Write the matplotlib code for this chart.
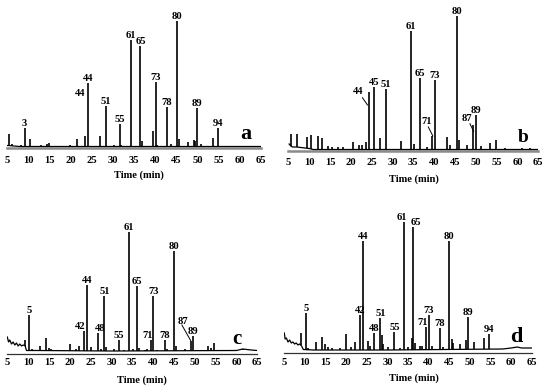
import numpy as np
import matplotlib
matplotlib.use("Agg")
import matplotlib.pyplot as plt

plt.rcParams['font.family'] = ['Liberation Serif', 'DejaVu Serif']
plt.rcParams['font.weight'] = 'bold'

ticks = list(range(5, 70, 5))

# ---- panel a : labelled peaks (number, time, height), then minor peaks, baseline
a_num = ['3', '44', '51', '55', '61', '65', '73', '78', '80', '89', '94']
a_num_t = [9.1, 24.1, 28.3, 31.7, 34.2, 36.5, 40.1, 42.8, 45.1, 49.9, 54.8]
a_num_h = [20, 65, 42, 24, 108, 102, 66, 41, 127, 40, 20]
a_min_t = [5.4, 6.0, 8.2, 10.3, 11.5, 13.0, 14.5, 14.8, 16.0, 18.5, 19.8, 21.4, 22.2,
           23.3, 26.9, 30.3, 32.0, 35.0, 36.8, 37.5, 39.5, 40.5, 43.8, 45.6, 47.8,
           49.2, 49.4, 50.8, 53.6, 56.0, 58.0, 61.5, 63.0]
a_min_h = [14, 4, 3, 9, 2.5, 3, 4, 5, 2.5, 2.5, 3, 9, 2.5,
           12, 12, 3, 3, 2.5, 7, 2.5, 17, 3, 4, 9, 6,
           8, 7, 4, 10, 2.5, 2.5, 2.5, 2.5]
a_base_t = [5.0, 5.3, 6.5, 8.0, 65.0]
a_base_y = [2.5, 2.5, 2.0, 1.5, 1.5]

# ---- panel b
b_num = ['45', '51', '61', '65', '73', '80', '89']
b_num_t = [25.6, 28.4, 34.4, 36.5, 40.2, 45.4, 50.0]
b_num_h = [64, 62, 120, 73, 71, 135, 36]
b_lead_num = ['44', '71', '87']
b_lead_t = [24.3, 39.6, 49.3]
b_lead_h = [59, 15, 26]
b_min_t = [5.6, 7.2, 9.4, 10.4, 12.2, 13.0, 14.5, 15.5, 17.0, 18.2, 20.6, 22.0,
           22.8, 23.6, 27.0, 32.0, 35.2, 38.2, 43.0, 43.8, 45.9, 47.9, 51.2,
           53.4, 54.8, 57.0, 61.0, 63.0]
b_min_h = [17, 17, 14, 16, 15, 13, 5, 4, 4, 4, 9, 6,
           6, 9, 13, 10, 7, 4, 14, 6, 11, 6, 5,
           8, 11, 3, 3, 3]
b_base_t = [5.2, 5.6, 6.0, 7.0, 8.0, 9.0, 10.0, 11.0, 65.0]
b_base_y = [7, 5, 4, 4, 3.5, 3, 2.5, 1.5, 1.5]

# ---- panel c
c_num = ['5', '42', '44', '48', '51', '55', '61', '65', '71', '73', '78', '80', '89']
c_num_t = [10.3, 23.3, 24.1, 26.8, 28.3, 31.7, 34.2, 36.2, 39.4, 40.0, 42.8, 44.9, 49.6]
c_num_h = [39, 23, 69, 21, 58, 14, 122, 68, 14, 58, 14, 103, 18]
c_lead_num = ['87']
c_lead_t = [49.0]
c_lead_h = [13]
c_min_t = [9.2, 11.0, 12.8, 14.2, 15.0, 15.5, 16.2, 18.5, 20.0, 21.5, 22.1, 25.2,
           27.5, 28.7, 30.5, 33.0, 35.2, 36.6, 38.0, 38.6, 41.0, 43.4, 45.6, 47.7,
           50.8, 53.2, 53.8, 54.6, 57.0, 61.5, 62.5]
c_min_h = [14, 5, 8, 16, 6, 5, 4, 4, 10, 5, 8, 7,
           5, 7, 5, 4, 5, 6, 4, 5, 4, 5, 8, 5,
           4, 8, 6, 11, 3, 4, 4]
c_base_t = [5.0, 5.3, 5.6, 6.0, 6.4, 6.8, 7.2, 7.6, 8.0, 8.4, 8.8, 9.3, 9.6,
            12.0, 30.0, 60.0, 61.5, 62.5, 63.5, 65.0]
c_base_y = [17, 12, 14, 10, 12, 9, 11, 8, 10, 8, 9, 8, 3.5,
            3.5, 3, 3.5, 5, 4.5, 4, 3.5]

# ---- panel d
d_num = ['5', '42', '44', '48', '51', '55', '61', '65', '71', '73', '78', '80', '89', '94']
d_num_t = [10.2, 23.4, 24.1, 26.7, 28.3, 31.7, 34.1, 36.3, 39.4, 40.0, 42.8, 44.9, 49.6, 54.7]
d_num_h = [40, 38, 112, 20, 35, 21, 131, 126, 26, 38, 25, 112, 36, 19]
d_min_t = [9.0, 10.8, 12.8, 14.1, 14.8, 15.5, 16.5, 18.5, 19.9, 21.2, 22.1, 25.2,
           25.8, 28.6, 29.0, 30.2, 33.0, 35.0, 35.9, 36.8, 37.8, 38.5, 40.9, 43.6,
           45.6, 45.9, 47.6, 49.0, 51.0, 53.4, 56.0, 58.0, 61.0]
d_min_h = [20, 5, 11, 16, 9, 6, 5, 5, 19, 6, 11, 12,
           7, 18, 9, 6, 5, 6, 15, 10, 7, 7, 7, 6,
           14, 10, 9, 13, 11, 15, 4, 4, 5]
d_base_t = [5.0, 5.2, 5.5, 5.9, 6.3, 6.7, 7.1, 7.5, 7.9, 8.3, 8.7, 9.2, 9.6,
            12.0, 30.0, 58.0, 60.0, 61.5, 62.5, 65.0]
d_base_y = [20, 14, 15, 11, 13, 10, 11, 9, 10, 8, 9, 7, 3.5,
            3, 3, 4, 5, 6, 5, 5]

W, H = 550, 390
FS = 7.6
fig = plt.figure(figsize=(5.5, 3.9), dpi=100)


def panel(px, letter, letter_pos, num, num_t, num_h, min_t, min_h, base_t, base_y,
          lead=None, spine=('#8a8a8a', 1.8), tick_pad=6, xlab_x=36, xlab_off=20,
          letter_size=14, extra=None, shift=None):
    left, right, axis_y, top = px
    ax = fig.add_axes([left / W, 1 - axis_y / H, (right - left) / W, (axis_y - top) / H])
    ax.set_xlim(5, 65)
    ax.set_ylim(0, axis_y - top)
    for s in ['top', 'left', 'right']:
        ax.spines[s].set_visible(False)
    ax.spines['bottom'].set_color(spine[0])
    ax.spines['bottom'].set_linewidth(spine[1])
    ax.set_yticks([])
    ax.set_xticks(ticks)
    ax.set_xticklabels([str(t) for t in ticks], fontsize=FS, fontweight='bold')
    ax.tick_params(axis='x', length=0, pad=tick_pad)
    ax.patch.set_alpha(0)

    ax.plot(base_t, base_y, color='black', lw=0.9, zorder=3)
    all_t = list(num_t) + list(min_t)
    all_h = list(num_h) + list(min_h)
    if lead is not None:
        all_t += list(lead[1])
        all_h += list(lead[2])
    bottoms = np.interp(all_t, base_t, base_y)
    ax.vlines(all_t, bottoms, all_h, color='black', lw=1.2, zorder=3)

    shift = shift or {}
    for n, t, h in zip(num, num_t, num_h):
        dx = shift.get(n, 0)
        ax.annotate(n, (t, h), xytext=(dx, 0.3), textcoords='offset points',
                    ha='center', va='bottom', fontsize=FS, fontweight='bold')
    if lead is not None:
        for n, t, h, pos, p0 in zip(lead[0], lead[1], lead[2], lead[3], lead[4]):
            ax.text(pos[0], pos[1], n, ha='center', va='center', fontsize=FS,
                    fontweight='bold')
            ax.plot([p0[0], p0[2]], [p0[1], p0[3]], color='black', lw=0.7)
    if extra is not None:
        for n, pos in extra:
            ax.text(pos[0], pos[1], n, ha='center', va='center', fontsize=FS,
                    fontweight='bold')

    ax.text(letter_pos[0], letter_pos[1], letter, ha='center', va='center',
            fontsize=letter_size, fontweight='bold')
    ax.annotate('Time (min)', (xlab_x, 0), xycoords=('data', 'axes fraction'),
                xytext=(0, -xlab_off), textcoords='offset points',
                ha='center', va='center', fontsize=FS, fontweight='bold')
    return ax


panel((7.3, 261, 148, 5), 'a', (61.4, 14), a_num, a_num_t, a_num_h,
      a_min_t, a_min_h, a_base_t, a_base_y, tick_pad=5.5, xlab_x=36.1,
      xlab_off=19.5, letter_size=16, extra=[('44', (22.2, 54))])

panel((288.3, 538.3, 151, 5), 'b', (61.4, 13.5), b_num, b_num_t, b_num_h,
      b_min_t, b_min_h, b_base_t, b_base_y,
      lead=(b_lead_num, b_lead_t, b_lead_h,
            [(21.8, 59.3), (38.2, 29.3), (47.8, 32.7)],
            [(22.8, 53.3, 24.0, 46), (38.6, 24, 39.7, 15), (48.6, 27.3, 49.5, 19.3)]),
      tick_pad=5.2, xlab_x=35.2, xlab_off=20.5, letter_size=14)

panel((7.3, 257.3, 354, 205), 'c', (60.2, 15), c_num, c_num_t, c_num_h,
      c_min_t, c_min_h, c_base_t, c_base_y,
      lead=(c_lead_num, c_lead_t, c_lead_h, [(47.1, 33)], [(46.9, 29, 49.0, 13.5)]),
      spine=('#333333', 0.9), tick_pad=3.0, xlab_x=37.3, xlab_off=18.7,
      letter_size=15, shift={'42': -2.5, '48': 1.5, '71': -2.5})

panel((284.3, 531.7, 353, 205), 'd', (61.2, 16), d_num, d_num_t, d_num_h,
      d_min_t, d_min_h, d_base_t, d_base_y,
      spine=('#333333', 0.9), tick_pad=3.5, xlab_x=36.5, xlab_off=18,
      letter_size=16, shift={'71': -2.5, '61': -1.5, '65': 1.5})

fig.savefig('out.png', dpi=100)
